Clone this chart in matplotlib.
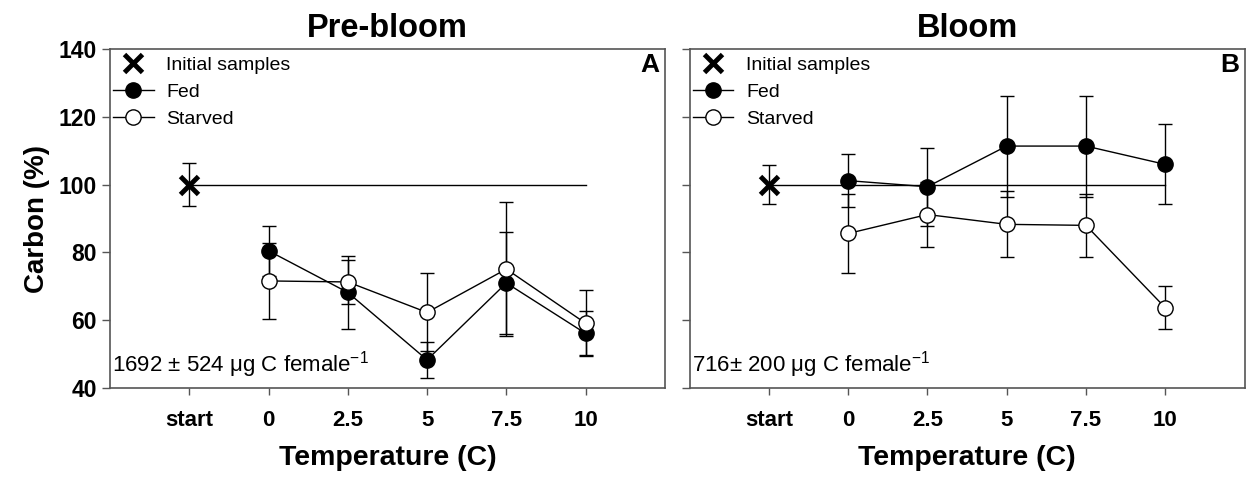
import numpy as np
import matplotlib.pyplot as plt

plt.rcParams['font.family'] = ['Liberation Sans', 'DejaVu Sans']
plt.rcParams['mathtext.fontset'] = 'custom'
plt.rcParams['mathtext.rm'] = 'Liberation Sans'

cats = ["start", "0", "2.5", "5", "7.5", "10"]
temps = ["0", "2.5", "5", "7.5", "10"]

# Pre-bloom
pre_init, pre_init_err = 100.0, 6.3
pre_fed = [80.5, 68.2, 48.3, 71.0, 56.1]
pre_fed_err = [7.4, 10.7, 5.3, 15.0, 6.5]
pre_starved = [71.6, 71.3, 62.3, 75.1, 59.1]
pre_starved_err = [11.2, 6.6, 11.5, 19.7, 9.8]

# Bloom
bl_init, bl_init_err = 100.0, 5.7
bl_fed = [101.2, 99.4, 111.4, 111.4, 106.0]
bl_fed_err = [7.9, 11.5, 14.9, 14.9, 11.8]
bl_starved = [85.6, 91.2, 88.3, 88.0, 63.7]
bl_starved_err = [11.8, 9.5, 9.7, 9.4, 6.3]

fig = plt.figure(figsize=(12.47, 4.82), dpi=100)
ax1 = fig.add_axes([0.0882, 0.195, 0.445, 0.703])
ax2 = fig.add_axes([0.553, 0.195, 0.445, 0.703])


def panel(ax, init, init_err, fed, fed_err, starved, starved_err, title, letter, note):
    xs = np.arange(1, 6)
    ax.plot([0, 5], [init, init], color="black", lw=1, zorder=1)
    ax.errorbar([0], [init], yerr=[init_err], fmt="none", ecolor="black",
                elinewidth=1, capsize=5, capthick=1)
    ax.plot([0], [init], marker="x", ms=13, mew=3.5, color="black", ls="none",
            label="Initial samples", zorder=4)
    ax.errorbar(xs, fed, yerr=fed_err, fmt="none", ecolor="black",
                elinewidth=1, capsize=5, capthick=1, zorder=2)
    ax.errorbar(xs, starved, yerr=starved_err, fmt="none", ecolor="black",
                elinewidth=1, capsize=5, capthick=1, zorder=2)
    ax.plot(xs, fed, marker="o", ms=11, mfc="black", mec="black", color="black",
            lw=1, label="Fed", zorder=3)
    ax.plot(xs, starved, marker="o", ms=11, mfc="white", mec="black", color="black",
            lw=1, label="Starved", zorder=3)
    ax.set_xlim(-1, 6)
    ax.set_ylim(40, 140)
    ax.set_yticks([40, 60, 80, 100, 120, 140])
    ax.set_xticks(range(6))
    ax.set_xticklabels(cats, fontsize=16, fontweight="bold")
    ax.tick_params(axis="x", length=5, width=1, pad=11, colors="#555555", labelcolor="black")
    ax.tick_params(axis="y", length=6, width=1, colors="#555555", labelcolor="black")
    for sp in ax.spines.values():
        sp.set_color("#555555")
        sp.set_linewidth(1.2)
    ax.set_title(title, fontsize=23.5, fontweight="bold", pad=9)
    ax.set_xlabel("Temperature (C)", fontsize=20.5, fontweight="bold", labelpad=10)
    ax.text(0.99, 0.99, letter, transform=ax.transAxes, ha="right", va="top",
            fontsize=19, fontweight="bold")
    ax.text(0.004, 0.025, note, transform=ax.transAxes, ha="left", va="bottom",
            fontsize=16)
    ax.legend(loc="upper left", bbox_to_anchor=(-0.007, 1.0), frameon=False,
              fontsize=14, handlelength=2.1, handletextpad=0.65,
              borderaxespad=0.0, borderpad=0.35, labelspacing=0.49)


panel(ax1, pre_init, pre_init_err, pre_fed, pre_fed_err, pre_starved, pre_starved_err,
      "Pre-bloom", "A", r"1692 $\pm$ 524 $\mathregular{\mu}$g C female$^{\mathregular{-1}}$")
panel(ax2, bl_init, bl_init_err, bl_fed, bl_fed_err, bl_starved, bl_starved_err,
      "Bloom", "B", r"716$\pm$ 200 $\mathregular{\mu}$g C female$^{\mathregular{-1}}$")

ax1.set_yticklabels([40, 60, 80, 100, 120, 140], fontsize=16.5, fontweight="bold")
ax1.set_ylabel("Carbon (%)", fontsize=20, fontweight="bold", labelpad=6)
ax2.set_yticklabels([])

fig.savefig("out.png", dpi=100)
